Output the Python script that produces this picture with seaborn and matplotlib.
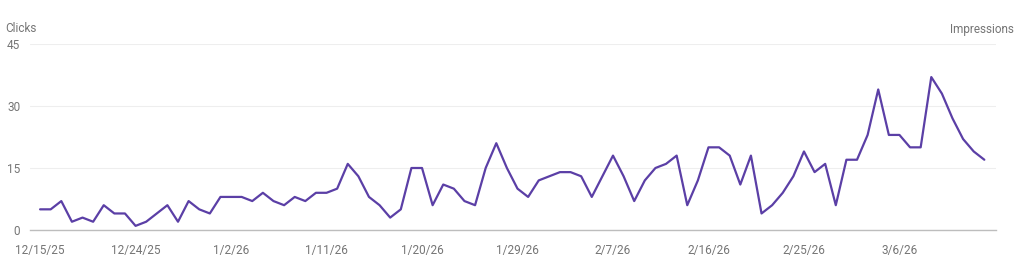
import matplotlib
matplotlib.use("Agg")
import matplotlib.pyplot as plt
import seaborn as sns
import pandas as pd
import numpy as np

# ---- data ----
start_date = "2025-12-15"
clicks = [5, 5, 7, 2, 3, 2, 6, 4, 4, 1,
          2, 4, 6, 2, 7, 5, 4, 8, 8, 8,
          7, 9, 7, 6, 8, 7, 9, 9, 10, 16,
          13, 8, 6, 3, 5, 15, 15, 6, 11, 10,
          7, 6, 15, 21, 15, 10, 8, 12, 13, 14,
          14, 13, 8, 13, 18, 13, 7, 12, 15, 16,
          18, 6, 12, 20, 20, 18, 11, 18, 4, 6,
          9, 13, 19, 14, 16, 6, 17, 17, 23, 34,
          23, 23, 20, 20, 37, 33, 27, 22, 19, 17]
y_ticks = [0, 15, 30, 45]
x_tick_labels = ["12/15/25", "12/24/25", "1/2/26", "1/11/26", "1/20/26",
                 "1/29/26", "2/7/26", "2/16/26", "2/25/26", "3/6/26"]

dates = pd.date_range(start_date, periods=len(clicks), freq="D")
df = pd.DataFrame({"day": np.arange(len(clicks)), "date": dates, "clicks": clicks})

sns.set_style("white")
plt.rcParams["font.family"] = ["Roboto", "DejaVu Sans"]

fig = plt.figure(figsize=(10.24, 2.75), dpi=100)
ax = fig.add_axes([30 / 1024, 1 - 230 / 275, 966 / 1024, 186 / 275])

sns.lineplot(data=df, x="day", y="clicks", ax=ax, color="#5B3FA6", linewidth=1.6)

ax.set_ylim(0, 45)
ax.set_xlim(-0.95, 90.1)
ax.set_yticks(y_ticks)
ax.set_yticklabels([str(v) for v in y_ticks])

tick_pos = [int(np.where(df["date"] == pd.to_datetime(l, format="%m/%d/%y"))[0][0])
            for l in x_tick_labels]
ax.set_xticks(tick_pos)
ax.set_xticklabels(x_tick_labels)

ax.grid(axis="y", color="#EEEEEE", linewidth=0.8)
ax.grid(axis="x", visible=False)
for s in ["top", "left", "right"]:
    ax.spines[s].set_visible(False)
ax.spines["bottom"].set_color("#BDBDBD")
ax.spines["bottom"].set_linewidth(1.0)
ax.tick_params(axis="both", length=0, labelsize=8.5, colors="#757575")
ax.tick_params(axis="y", pad=7)
ax.tick_params(axis="x", pad=10)
ax.set_xlabel("")
ax.set_ylabel("")

fig.text(5 / 1024, 1 - 29 / 275, "Clicks", fontsize=8.5, color="#757575", va="center", ha="left")
fig.text(1014 / 1024, 1 - 29 / 275, "Impressions", fontsize=8.5, color="#757575", va="center", ha="right")

fig.savefig("out.png", dpi=100, facecolor="white")
